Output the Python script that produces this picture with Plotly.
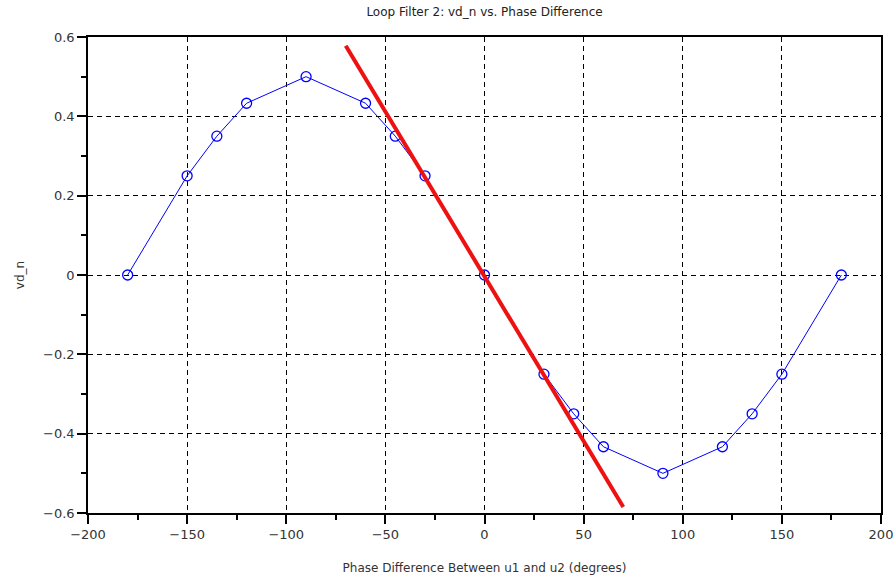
import plotly.graph_objects as go

# Measured phase-detector output vs. phase difference
phase_deg = [-180, -150, -135, -120, -90, -60, -45, -30, 0,
             30, 45, 60, 90, 120, 135, 150, 180]
vd_n = [0.0, 0.25, 0.35, 0.433, 0.5, 0.433, 0.35, 0.25, 0.0,
        -0.25, -0.35, -0.433, -0.5, -0.433, -0.35, -0.25, 0.0]

# Linear approximation around zero phase difference
fit_x = [-70, 70]
fit_y = [0.578, -0.585]

fig = go.Figure()
fig.add_trace(go.Scatter(
    x=phase_deg, y=vd_n, mode="lines+markers",
    line=dict(color="#0000ff", width=1),
    marker=dict(symbol="circle-open", size=10, color="#0000ff",
                line=dict(width=1.3, color="#0000ff")),
    showlegend=False,
))
fig.add_trace(go.Scatter(
    x=fit_x, y=fit_y, mode="lines",
    line=dict(color="#ee1111", width=4),
    showlegend=False,
))

font = "DejaVu Sans"
fig.update_layout(
    width=896, height=582,
    margin=dict(l=88, r=15, t=37, b=69),
    paper_bgcolor="white", plot_bgcolor="white",
    font=dict(family=font, size=12, color="#333333"),
    title=dict(text="Loop Filter 2: vd_n vs. Phase Difference",
               x=(88 + 881) / 2 / 896, xanchor="center",
               y=1 - 12 / 582, yanchor="middle",
               font=dict(size=12, color="#222222")),
)
fig.update_xaxes(
    range=[-200, 200], tickmode="linear", tick0=-200, dtick=50,
    automargin=False,
    showline=True, linecolor="black", linewidth=1.5, mirror=True,
    ticks="outside", ticklen=9, tickwidth=1.5, tickcolor="black",
    minor=dict(dtick=25, ticks="outside", ticklen=5, tickwidth=1.5,
               tickcolor="black", showgrid=False),
    showgrid=True, gridcolor="black", griddash="5px,4px", gridwidth=1.2,
    zeroline=False,
    title=dict(text="Phase Difference Between u1 and u2 (degrees)",
               standoff=22, font=dict(size=12)),
    tickfont=dict(size=13),
)
fig.update_yaxes(
    range=[-0.6, 0.6], tickmode="linear", tick0=-0.6, dtick=0.2,
    tickformat="~g", automargin=False,
    showline=True, linecolor="black", linewidth=1.5, mirror=True,
    ticks="outside", ticklen=9, tickwidth=1.5, tickcolor="black",
    minor=dict(dtick=0.1, ticks="outside", ticklen=5, tickwidth=1.5,
               tickcolor="black", showgrid=False),
    showgrid=True, gridcolor="black", griddash="5px,4px", gridwidth=1.2,
    zeroline=False,
    title=dict(text="vd_n", standoff=16, font=dict(size=12)),
    tickfont=dict(size=13),
)

fig.write_html("out.html")
